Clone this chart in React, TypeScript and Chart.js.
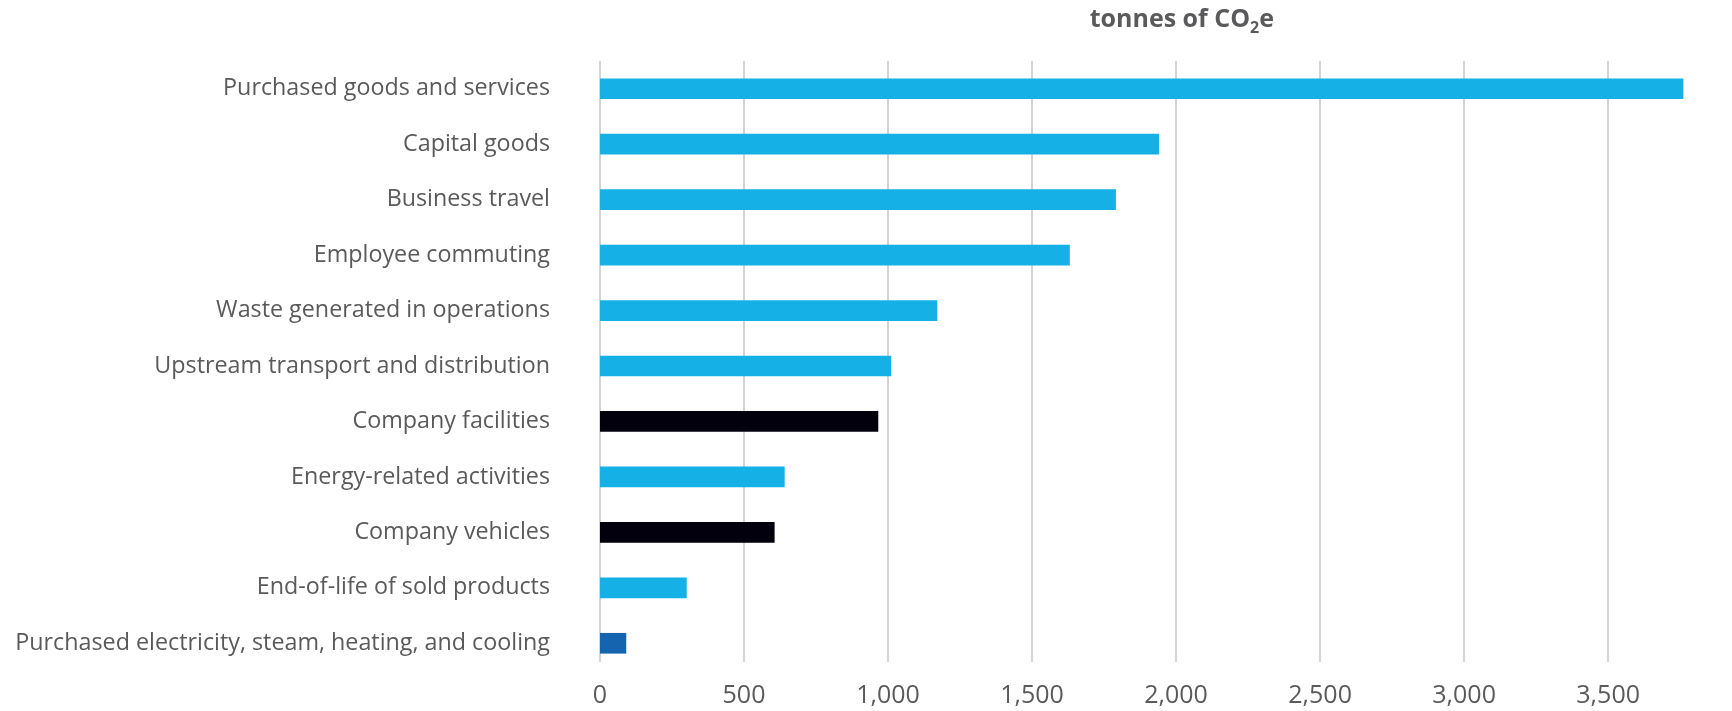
import React, { useEffect, useRef } from "react";
import { Chart, registerables } from "chart.js";

Chart.register(...registerables);

const categories = [
  "Purchased goods and services",
  "Capital goods",
  "Business travel",
  "Employee commuting",
  "Waste generated in operations",
  "Upstream transport and distribution",
  "Company facilities",
  "Energy-related activities",
  "Company vehicles",
  "End-of-life of sold products",
  "Purchased electricity, steam, heating, and cooling",
];

const values = [3760, 1940, 1790, 1630, 1170, 1010, 965, 640, 605, 300, 90];

const scopes = [3, 3, 3, 3, 3, 3, 1, 3, 1, 3, 2];

const xTickValues = [0, 500, 1000, 1500, 2000, 2500, 3000, 3500];

const scopeColors: Record<number, string> = {
  1: "#02000d",
  2: "#1464af",
  3: "#15b1e6",
};

const xMax = 3930;
const titleCenterValue = 2020;

const TEXT = "#5a5a5c";
const GRID = "#d3d3d3";
const FONT = '"Open Sans", sans-serif';

const gridPlugin = {
  id: "shortGrid",
  beforeDatasetsDraw(chart: any) {
    const { ctx, chartArea, scales } = chart;
    ctx.save();
    ctx.strokeStyle = GRID;
    ctx.lineWidth = 2;
    for (const v of xTickValues) {
      const px = Math.round(scales.x.getPixelForValue(v));
      ctx.beginPath();
      ctx.moveTo(px, chartArea.top);
      ctx.lineTo(px, chartArea.bottom - 9);
      ctx.stroke();
    }
    ctx.restore();
  },
};

const unitTitlePlugin = {
  id: "unitTitle",
  afterDraw(chart: any) {
    const { ctx, scales } = chart;
    const cx = scales.x.getPixelForValue(titleCenterValue);
    const main = "tonnes of CO";
    const sub = "2";
    const tail = "e";
    ctx.save();
    ctx.fillStyle = TEXT;
    ctx.textBaseline = "alphabetic";
    ctx.textAlign = "left";
    const big = `bold 25px ${FONT}`;
    const small = `bold 16px ${FONT}`;
    ctx.font = big;
    const w1 = ctx.measureText(main).width;
    const w3 = ctx.measureText(tail).width;
    ctx.font = small;
    const w2 = ctx.measureText(sub).width;
    const total = w1 + w2 + w3;
    let x = cx - total / 2;
    const y = 27;
    ctx.font = big;
    ctx.fillText(main, x, y);
    x += w1;
    ctx.font = small;
    ctx.fillText(sub, x, y + 6);
    x += w2;
    ctx.font = big;
    ctx.fillText(tail, x, y);
    ctx.restore();
  },
};

export default function App() {
  const ref = useRef<HTMLCanvasElement | null>(null);

  useEffect(() => {
    document.body.style.margin = "0";
    if (!ref.current) return;
    const chart = new Chart(ref.current, {
      type: "bar",
      data: {
        labels: categories,
        datasets: [
          {
            data: values,
            backgroundColor: scopes.map((s) => scopeColors[s]),
            barThickness: 20,
          },
        ],
      },
      options: {
        indexAxis: "y",
        animation: false,
        responsive: false,
        layout: { padding: { top: 61, left: 0, right: 0, bottom: 0 } },
        plugins: {
          legend: { display: false },
          tooltip: { enabled: false },
          title: { display: false },
        },
        scales: {
          x: {
            min: 0,
            max: xMax,
            position: "bottom",
            grid: { display: false, drawTicks: false },
            border: { display: false },
            afterBuildTicks: (s: any) => {
              s.ticks = xTickValues.map((v) => ({ value: v }));
            },
            ticks: {
              padding: 10,
              color: TEXT,
              font: { family: FONT, size: 25 },
            },
            afterFit: (s: any) => {
              s.height = 40;
              s.paddingLeft = 0;
              s.paddingRight = 0;
              s.paddingTop = 0;
              s.paddingBottom = 0;
            },
          },
          y: {
            grid: { display: false, drawTicks: false },
            border: { display: false },
            ticks: {
              padding: 50,
              color: TEXT,
              font: { family: FONT, size: 23.3 },
            },
            afterFit: (s: any) => {
              s.width = 600;
              s.paddingTop = 0;
              s.paddingBottom = 0;
              s.paddingLeft = 0;
              s.paddingRight = 0;
            },
          },
        },
      },
      plugins: [gridPlugin, unitTitlePlugin],
    });
    return () => chart.destroy();
  }, []);

  return (
    <div style={{ width: 1732, height: 711 }}>
      <canvas ref={ref} width={1732} height={711} />
    </div>
  );
}
